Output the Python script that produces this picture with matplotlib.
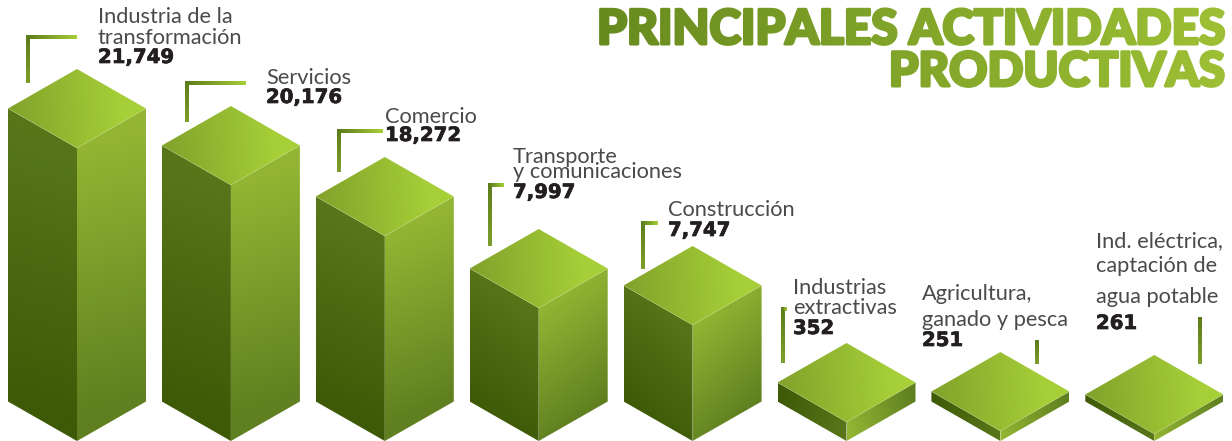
import numpy as np
import matplotlib
matplotlib.use('Agg')
import matplotlib.pyplot as plt
import matplotlib.patheffects as pe
from matplotlib.colors import to_rgb
from matplotlib.patches import Polygon
from matplotlib.patheffects import AbstractPathEffect
from matplotlib.transforms import Bbox

# ====================== data ======================
sectors = [
    ['Industria de la', 'transformación'],
    ['Servicios'],
    ['Comercio'],
    ['Transporte', 'y comunicaciones'],
    ['Construcción'],
    ['Industrias', 'extractivas'],
    ['Agricultura,', 'ganado y pesca'],
    ['Ind. eléctrica,', 'captación de', 'agua potable'],
]
values = ['21,749', '20,176', '18,272', '7,997', '7,747', '352', '251', '261']
# block heights (the original scale is not linear)
block_heights = [293, 256, 205, 133, 116, 19, 10, 7]
title_lines = ['PRINCIPALES ACTIVIDADES', 'PRODUCTIVAS']

# ====================== layout (pixels) ======================
W, H = 1232, 441
HALF_W, HALF_D = 69, 39.5
label_x = [98, 266, 385, 513, 668, 793, 922, 1096]
label_base = [[23, 44], [84], [123], [163, 178], [216], [294, 314], [300, 326], [247, 272, 303]]
value_base = [63, 103, 141, 198, 236, 334, 346, 329]
# vertical x, top y, end of horizontal x, bottom y
leaders = [(28, 37, 77, 83), (187, 83, 246, 122), (339, 131, 383, 172),
           (490, 185, 504, 246), (643, 223, 658, 269), (783, 309, 787, 363),
           (1037, 342, 1037, 364), (1200, 319, 1200, 364)]


class GradientFill(AbstractPathEffect):
    """Paints a text path in vertical bands going from one colour to another."""
    def __init__(self, c0, c1, x0, x1, stroke=0.0):
        super().__init__()
        self.c0, self.c1 = np.array(to_rgb(c0)), np.array(to_rgb(c1))
        self.x0, self.x1, self.stroke = x0, x1, stroke

    def draw_path(self, renderer, gc, tpath, affine, rgbFace=None):
        for x in range(self.x0, self.x1, 3):
            t = (x - self.x0) / (self.x1 - self.x0)
            col = tuple(self.c0 + (self.c1 - self.c0) * t)
            g = renderer.new_gc()
            g.copy_properties(gc)
            g.set_clip_rectangle(Bbox.from_extents(x, 0, x + 3, H))
            g.set_foreground(col)
            g.set_linewidth(self.stroke)
            renderer.draw_path(g, tpath, affine, col)
            g.restore()


def gradient_face(ax, pts, p0, p1, c0, c1):
    pts = np.array(pts, dtype=float)
    xmin, ymin = pts.min(axis=0)
    xmax, ymax = pts.max(axis=0)
    xx, yy = np.meshgrid(np.linspace(xmin, xmax, 80), np.linspace(ymin, ymax, 80))
    d = np.array(p1, dtype=float) - np.array(p0, dtype=float)
    t = ((xx - p0[0]) * d[0] + (yy - p0[1]) * d[1]) / (d @ d)
    t = np.clip(t, 0, 1)[..., None]
    img = np.array(to_rgb(c0)) + (np.array(to_rgb(c1)) - np.array(to_rgb(c0))) * t
    im = ax.imshow(img, extent=(xmin, xmax, ymax, ymin), aspect='auto',
                   interpolation='bilinear', zorder=2)
    patch = Polygon(pts, closed=True, transform=ax.transData)
    im.set_clip_path(patch)


fig = plt.figure(figsize=(W / 100, H / 100), dpi=100)
ax = fig.add_axes([0, 0, 1, 1])

# ====================== blocks ======================
for i, h in enumerate(block_heights):
    left = 8 + 153.9 * i
    cx, right = left + HALF_W, left + 2 * HALF_W
    front_top = H - h
    side_top = front_top - HALF_D
    apex = front_top - 2 * HALF_D
    side_bottom = H - HALF_D

    gradient_face(ax, [(left, side_top), (cx, front_top), (cx, H), (left, side_bottom)],
                  (left, side_bottom), (cx, front_top), '#3e5a07', '#587619')
    gradient_face(ax, [(cx, front_top), (right, side_top), (right, side_bottom), (cx, H)],
                  (cx, front_top), (right, side_bottom), '#93b533', '#5f7f20')
    gradient_face(ax, [(left, side_top), (cx, apex), (right, side_top), (cx, front_top)],
                  (left, side_top), (cx + 45, side_top - 8), '#82a22b', '#a6cf38')
    # thin pale edges around the top face
    ax.plot([left, cx, right], [side_top, front_top, side_top], color='#dce8a8',
            lw=0.4, alpha=0.4, zorder=3)

# ====================== leaders ======================
LW = 3.2
for vx, top, hx, bottom in leaders:
    gradient_face(ax, [(vx - LW / 2, top - LW / 2), (vx + LW / 2, top - LW / 2),
                       (vx + LW / 2, bottom), (vx - LW / 2, bottom)],
                  (vx, top), (vx, bottom), '#5d7d1b', '#7f9f2b')
    if hx != vx:
        gradient_face(ax, [(vx - LW / 2, top - LW / 2), (hx, top - LW / 2),
                           (hx, top + LW / 2), (vx - LW / 2, top + LW / 2)],
                      (vx, top), (hx, top), '#5d7d1b', '#a6cf38')

# ====================== labels ======================
for i, lines in enumerate(sectors):
    for line, y in zip(lines, label_base[i]):
        ax.text(label_x[i], y, line, fontsize=15.7, family=['Lato', 'DejaVu Sans'],
                weight='normal', color='#4a4a4a', va='baseline', ha='left', zorder=4)
    ax.text(label_x[i], value_base[i], values[i], fontsize=14.2, family=['DejaVu Sans'],
            weight='bold', color='#231f20', va='baseline', ha='left', zorder=4,
            path_effects=[pe.withStroke(linewidth=0.5, foreground='#231f20')])

# ====================== title ======================
fill = GradientFill('#678a1e', '#9dc035', 597, 1230, stroke=2.2)
for line, y, size in zip(title_lines, [44, 86], [34.4, 34]):
    ax.text(1225, y, line, fontsize=size, family=['Lato', 'DejaVu Sans'], weight='black',
            color='#7f9f2b', ha='right', va='baseline', path_effects=[fill], zorder=4)

ax.set_xlim(0, W)
ax.set_ylim(H, 0)
ax.axis('off')

fig.savefig('out.png', dpi=100)
